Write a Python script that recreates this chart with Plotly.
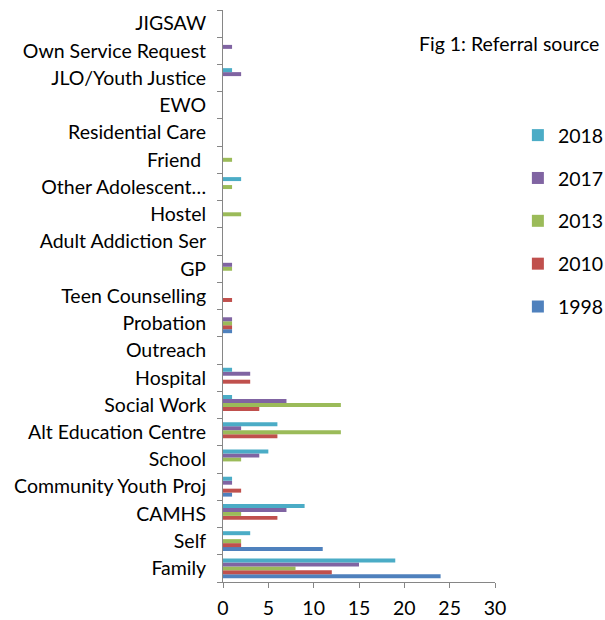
import plotly.graph_objects as go

categories = ["Family", "Self", "CAMHS", "Community Youth Proj", "School",
              "Alt Education Centre", "Social Work", "Hospital", "Outreach",
              "Probation", "Teen Counselling", "GP", "Adult Addiction Ser",
              "Hostel", "Other Adolescent…", "Friend ", "Residential Care",
              "EWO", "JLO/Youth Justice", "Own Service Request", "JIGSAW"]

v1998 = [24, 11, 0, 1, 0, 0, 0, 0, 0, 1, 0, 0, 0, 0, 0, 0, 0, 0, 0, 0, 0]
v2010 = [12, 2, 6, 2, 0, 6, 4, 3, 0, 1, 1, 0, 0, 0, 0, 0, 0, 0, 0, 0, 0]
v2013 = [8, 2, 2, 0, 2, 13, 13, 0, 0, 1, 0, 1, 0, 2, 1, 1, 0, 0, 0, 0, 0]
v2017 = [15, 0, 7, 1, 4, 2, 7, 3, 0, 1, 0, 1, 0, 0, 0, 0, 0, 0, 2, 1, 0]
v2018 = [19, 3, 9, 1, 5, 6, 1, 1, 0, 0, 0, 0, 0, 0, 2, 0, 0, 0, 1, 0, 0]

series = [("1998", v1998, "#4F81BD"), ("2010", v2010, "#C0504D"),
          ("2013", v2013, "#9BBB59"), ("2017", v2017, "#8064A2"),
          ("2018", v2018, "#4BACC6")]

x_ticks = [0, 5, 10, 15, 20, 25, 30]

fig = go.Figure()
n = len(series)
for i, (name, vals, col) in enumerate(series):
    fig.add_trace(go.Bar(y=categories, x=vals, name=name, orientation="h",
                         marker=dict(color=col, line=dict(width=0)),
                         legendgroup=name, legendrank=1000 + (n - i)))

font = "Lato, 'Open Sans', sans-serif"
FS = 19.5
fig.update_layout(
    width=605, height=620,
    margin=dict(l=223, r=110, t=10, b=38, autoexpand=False),
    paper_bgcolor="white", plot_bgcolor="white",
    barmode="group", bargap=0.27, bargroupgap=0,
    font=dict(family=font, size=FS, color="black"),
    showlegend=True,
    legend=dict(xref="container", yref="container",
                x=0.856, y=0.813, xanchor="left", yanchor="top",
                traceorder="grouped", tracegroupgap=14.5,
                font=dict(size=FS), itemwidth=30, bgcolor="rgba(0,0,0,0)"),
    annotations=[dict(text="Fig 1: Referral source", xref="paper", yref="paper",
                      x=1.39, y=0.9406, xanchor="right", yanchor="middle",
                      showarrow=False, font=dict(size=FS))],
)
fig.update_xaxes(range=[0, 30], tickvals=x_ticks, showgrid=False, zeroline=False,
                 showline=True, linecolor="#868686", linewidth=1,
                 ticks="outside", ticklen=5, tickcolor="#868686",
                 ticklabelstandoff=4, tickfont=dict(size=FS))
fig.update_yaxes(categoryorder="array", categoryarray=categories,
                 showgrid=False, showline=True, linecolor="#868686", linewidth=1,
                 ticks="outside", ticklen=5, tickcolor="#868686",
                 tickson="boundaries", ticklabelstandoff=12,
                 tickfont=dict(size=FS))

fig.write_html("out.html")
